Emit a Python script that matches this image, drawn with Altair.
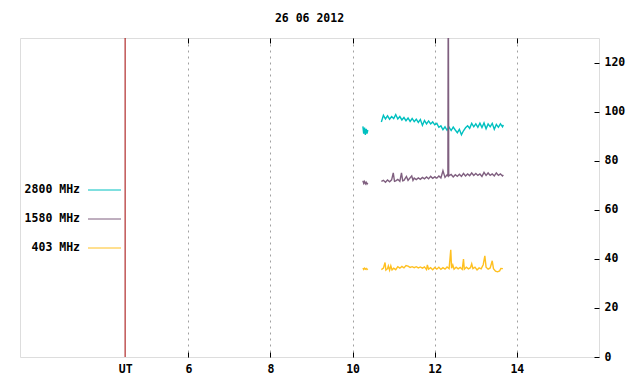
import altair as alt
import pandas as pd

# ---------------- data ----------------
TITLE = "26 06 2012"
UT_POS = [4.46]
X_TICKS = [4.46, 6, 8, 10, 12, 14]
X_GRID = [6, 8, 10, 12, 14]
Y_TICKS = [0, 20, 40, 60, 80, 100, 120]

series_names = ["2800 MHz", "1580 MHz", "403 MHz"]
series_colors = ["#00c0c0", "#7f5f7f", "#ffc020"]

# 2800 MHz
t2800_a = [10.25, 10.27, 10.29, 10.31, 10.33, 10.35, 10.37]
v2800_a = [94.0, 91.0, 93.5, 90.5, 93.0, 91.0, 92.5]
t2800_b = [10.70, 10.75, 10.80, 10.85, 10.90, 10.95, 11.00, 11.05, 11.10, 11.15,
           11.20, 11.25, 11.30, 11.35, 11.40, 11.45, 11.50, 11.55, 11.60, 11.65,
           11.70, 11.75, 11.80, 11.85, 11.90, 11.95, 12.00, 12.05, 12.10, 12.15,
           12.20, 12.25, 12.30, 12.35, 12.40, 12.45, 12.50, 12.55, 12.60, 12.65,
           12.70, 12.75, 12.80, 12.85, 12.90, 12.95, 13.00, 13.05, 13.10, 13.15,
           13.20, 13.25, 13.30, 13.35, 13.40, 13.45, 13.50, 13.55, 13.60, 13.65, 13.67]
v2800_b = [95.8, 98.5, 97.0, 98.3, 96.9, 98.0, 97.2, 98.8, 97.0, 98.0,
           96.6, 97.6, 96.3, 97.4, 96.0, 97.2, 95.9, 96.9, 95.6, 96.8,
           94.4, 96.4, 95.0, 96.2, 95.0, 95.8, 94.6, 95.2, 93.6, 94.2,
           92.6, 93.8, 92.4, 93.6, 92.3, 93.7, 92.5, 91.4, 92.8, 90.6,
           92.2, 93.4, 94.2, 93.2, 95.2, 93.8, 95.0, 93.6, 95.3, 93.5,
           95.4, 93.0, 95.0, 93.8, 95.2, 92.8, 94.8, 93.6, 95.0, 93.8, 94.6]

# 1580 MHz
t1580_a = [10.25, 10.27, 10.29, 10.31, 10.33, 10.35, 10.37]
v1580_a = [71.8, 70.8, 71.5, 70.6, 71.2, 70.5, 71.0]
t1580_b = [10.70, 10.75, 10.80, 10.85, 10.90, 10.95, 10.99, 11.02, 11.05, 11.10,
           11.15, 11.19, 11.22, 11.25, 11.31, 11.35, 11.44, 11.47, 11.50, 11.55,
           11.60, 11.65, 11.70, 11.75, 11.80, 11.85, 11.90, 11.95, 12.00, 12.05,
           12.10, 12.15, 12.20, 12.25, 12.30, 12.32, 12.33, 12.34, 12.40, 12.45,
           12.50, 12.55, 12.60, 12.65, 12.70, 12.75, 12.80, 12.85, 12.90, 12.95,
           13.00, 13.05, 13.10, 13.15, 13.20, 13.25, 13.30, 13.35, 13.40, 13.45,
           13.50, 13.55, 13.60, 13.65, 13.67]
v1580_b = [71.6, 72.0, 71.2, 72.1, 71.4, 72.2, 75.0, 71.6, 71.8, 72.4,
           71.6, 75.0, 71.8, 72.0, 73.6, 72.0, 73.8, 72.0, 72.9, 72.3,
           73.0, 72.4, 73.2, 72.6, 73.4, 72.6, 73.6, 72.8, 73.4, 72.9,
           73.8, 73.0, 75.9, 73.2, 74.2, 73.8, 160.0, 73.8, 74.4, 73.4,
           74.3, 73.6, 74.5, 73.6, 74.8, 73.8, 74.6, 73.9, 75.0, 74.0,
           74.8, 74.0, 74.6, 73.6, 75.2, 74.0, 75.0, 74.0, 74.6, 73.8,
           75.0, 74.0, 74.6, 73.8, 74.2]

# 403 MHz
t403_a = [10.25, 10.27, 10.29, 10.31, 10.33, 10.35, 10.37]
v403_a = [36.2, 35.7, 36.2, 35.8, 36.1, 35.7, 36.0]
t403_b = [10.70, 10.75, 10.79, 10.81, 10.85, 10.87, 10.90, 10.93, 10.96, 11.00,
          11.05, 11.10, 11.15, 11.20, 11.25, 11.30, 11.35, 11.40, 11.45, 11.50,
          11.55, 11.60, 11.65, 11.70, 11.75, 11.80, 11.82, 11.85, 11.90, 11.95,
          12.00, 12.05, 12.10, 12.15, 12.20, 12.25, 12.30, 12.35, 12.39, 12.41,
          12.44, 12.47, 12.52, 12.57, 12.62, 12.67, 12.70, 12.72, 12.77, 12.82,
          12.87, 12.90, 12.93, 12.98, 13.03, 13.08, 13.13, 13.18, 13.22, 13.25,
          13.30, 13.35, 13.40, 13.43, 13.48, 13.53, 13.58, 13.61, 13.66]
v403_b = [35.6, 36.2, 38.5, 35.4, 36.0, 37.1, 35.4, 37.2, 35.5, 36.2,
          35.6, 36.8, 36.2, 36.9, 36.3, 37.3, 37.0, 36.5, 36.8, 36.4,
          36.8, 36.3, 36.7, 36.2, 36.7, 35.6, 37.5, 35.8, 36.4, 35.6,
          36.5, 35.8, 36.6, 35.7, 36.4, 35.8, 36.7, 36.0, 43.7, 36.2,
          37.5, 35.8, 36.6, 35.9, 36.5, 35.7, 39.9, 35.8, 36.6, 35.9,
          36.4, 38.0, 36.0, 36.6, 35.5, 36.3, 35.9, 37.6, 41.2, 36.6,
          35.8, 36.3, 39.2, 36.0, 35.0, 34.7, 35.1, 36.1, 36.0]

# ---------------- build table ----------------
rows = []
for name, segs in [
    ("2800 MHz", [(t2800_a, v2800_a), (t2800_b, v2800_b)]),
    ("1580 MHz", [(t1580_a, v1580_a), (t1580_b, v1580_b)]),
    ("403 MHz", [(t403_a, v403_a), (t403_b, v403_b)]),
]:
    for k, (ts, vs) in enumerate(segs):
        for t, v in zip(ts, vs):
            rows.append({"series": name, "seg": f"{name}-{k}", "t": t, "v": v})
df = pd.DataFrame(rows)
ut_df = pd.DataFrame({"t": UT_POS})

FONT = "DejaVu Sans Mono"
FS = 11.5

xscale = alt.Scale(domain=[1.9, 16], nice=False, zero=False)
yscale = alt.Scale(domain=[0, 130], nice=False, zero=False)

lines = alt.Chart(df).mark_line(strokeWidth=1.4, clip=True).encode(
    x=alt.X("t:Q", scale=xscale, title=None,
            axis=alt.Axis(orient="bottom", values=X_TICKS, offset=-5, tickSize=5,
                          tickColor={"condition": {"test": "datum.value < 5",
                                                   "value": "transparent"},
                                     "value": "black"},
                          domain=False, grid=False,
                          labelExpr="datum.value < 5 ? 'UT' : datum.label",
                          labelPadding=6, labelFont=FONT, labelFontSize=FS,
                          labelFontWeight="bold", labelColor="black")),
    y=alt.Y("v:Q", scale=yscale, title=None,
            axis=alt.Axis(orient="right", values=Y_TICKS, offset=-5, tickSize=5,
                          tickColor="black", domain=False, grid=False,
                          labelPadding=5, labelFont=FONT, labelFontSize=FS,
                          labelFontWeight="bold", labelColor="black")),
    color=alt.Color("series:N", scale=alt.Scale(domain=series_names, range=series_colors),
                    legend=None),
    detail="seg:N",
)

ut_rule = alt.Chart(ut_df).mark_rule(color="#a00000", strokeWidth=1).encode(
    x=alt.X("t:Q", scale=xscale, title=None,
            axis=alt.Axis(orient="top", values=X_GRID, offset=-5, tickSize=5,
                          tickColor="black", domain=False, grid=True,
                          gridDash=[2, 4], gridColor="#a0a0a0", labels=False)),
)

legend_layers = []
for i, (name, col) in enumerate(zip(series_names, series_colors)):
    ly = 152 + 29 * i
    ldf = pd.DataFrame({"name": [name]})
    legend_layers.append(
        alt.Chart(ldf).mark_text(align="right", baseline="middle", font=FONT,
                                 fontSize=FS, fontWeight="bold", color="black").encode(
            x=alt.value(60), y=alt.value(ly), text="name:N")
    )
    legend_layers.append(
        alt.Chart(ldf).mark_rule(color=col, strokeWidth=1).encode(
            x=alt.value(68), x2=alt.value(101), y=alt.value(ly))
    )

chart = alt.layer(ut_rule, lines, *legend_layers).resolve_axis(
    x="independent"
).properties(
    width=579,
    height=319,
    title=alt.TitleParams(TITLE, font=FONT, fontSize=FS, fontWeight="bold",
                          anchor="middle", offset=13, color="black"),
    autosize=alt.AutoSizeParams(type="none"),
    padding={"left": 12, "top": 30, "right": 30, "bottom": 20},
).configure_view(stroke="black", strokeWidth=1).configure(background="white")

chart.save("out.html", embed_options={"renderer": "svg", "actions": False})
